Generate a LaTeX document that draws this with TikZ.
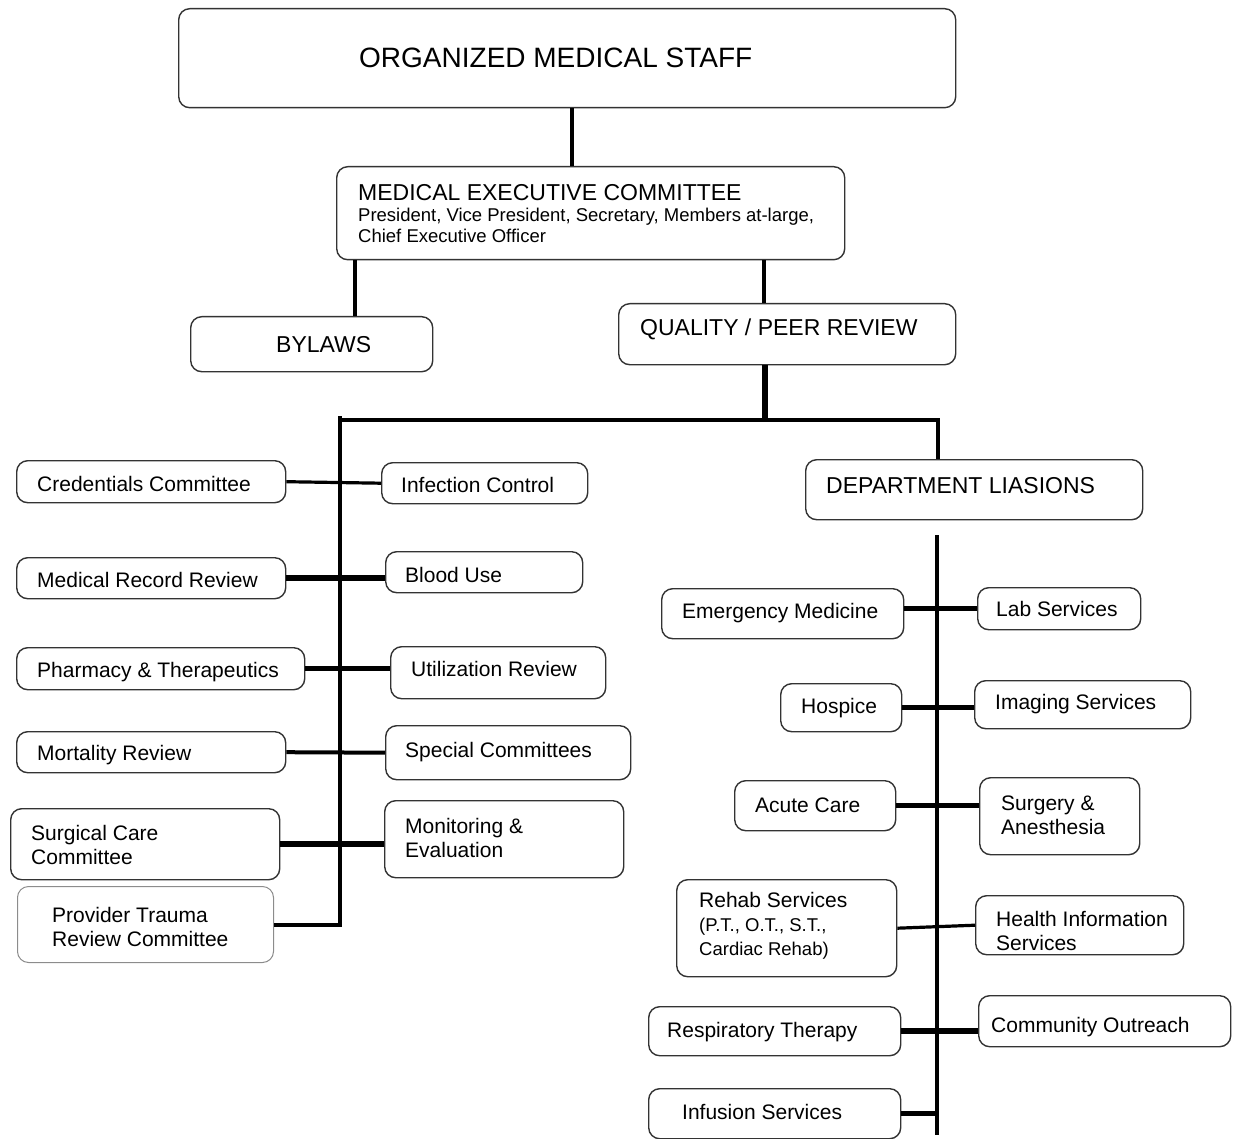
\documentclass[tikz,border=0pt]{standalone}
\usepackage{fontspec}
\setmainfont{Liberation Sans}
\newcommand{\subline}{\fontsize{18.5}{21}\selectfont}

\begin{document}
\begin{tikzpicture}[
    x=1pt,
    y=-1pt,
    box/.style={draw=black!80, line width=1.4pt, rounded corners=11pt, anchor=north west, inner sep=0pt},
    softbox/.style={box, draw=black!45, line width=1pt},
    boxtext/.style={anchor=west, inner sep=0pt, align=left, font=\fontsize{21}{24}\selectfont},
    headtext/.style={boxtext, font=\fontsize{23}{26}\selectfont},
    trunk/.style={line width=4.5pt},
    spine/.style={line width=4pt},
    link/.style={line width=3.2pt},
    heavylink/.style={line width=5.5pt}
  ]
    \useasboundingbox (0,0) rectangle (1233,1139);

    % top of the chart
    \node[box, minimum width=777pt, minimum height=99pt,
      label={[headtext, font=\fontsize{28}{32}\selectfont, xshift=181pt]west:ORGANIZED MEDICAL STAFF}] (oms) at (178,8) {};
    \node[box, minimum width=508pt, minimum height=93pt,
      label={[boxtext, font=\fontsize{18.5}{21}\selectfont, xshift=22pt]west:{{\fontsize{23}{26}\selectfont MEDICAL EXECUTIVE COMMITTEE}\\President, Vice President, Secretary, Members at-large,\\Chief Executive Officer}}] (mec) at (336,166) {};
    \node[box, minimum width=242pt, minimum height=55pt,
      label={[headtext, xshift=86pt]west:BYLAWS}] (bylaws) at (190,316) {};
    \node[box, minimum width=337pt, minimum height=61pt,
      label={[headtext, xshift=22pt, yshift=5pt]west:QUALITY / PEER REVIEW}] (qpr) at (618,303) {};
    \node[box, minimum width=337pt, minimum height=60pt,
      label={[headtext, xshift=21pt, yshift=4pt]west:DEPARTMENT LIASIONS}] (dl) at (805,459) {};

    % committees and departments
    \foreach \nm/\x/\y/\w/\h/\ix/\dy/\txt in {
      cred/16/460/269/42/21/-2/{Credentials Committee},
      mrr/16/557/269/41/21/-2/{Medical Record Review},
      pharm/16/647/288/42/21/-3/{Pharmacy \& Therapeutics},
      mort/16/731/269/41/21/-3/{Mortality Review},
      surg/10/808/269/71/21/-1/{Surgical Care\\Committee},
      infect/381/462/206/41/20/-2/{Infection Control},
      blood/385/551/197/41/20/-3/{Blood Use},
      util/390/646/215/52/21/4/{Utilization Review},
      spec/385/725/245/54/20/1/{Special Committees},
      monit/384/800/239/77/21/1/{Monitoring \&\\Evaluation},
      em/661/588/242/50/21/1/{Emergency Medicine},
      hosp/780/683/121/48/21/0/{Hospice},
      acute/734/780/161/50/21/0/{Acute Care},
      rehab/676/879/220/97/23/2/{Rehab Services\\{\subline (P.T., O.T., S.T.,}\\{\subline Cardiac Rehab)}},
      resp/648/1006/252/49/19/-1/{Respiratory Therapy},
      inf/648/1088/252/50/34/2/{Infusion Services},
      lab/977/587/163/42/19/0/{Lab Services},
      img/974/680/216/48/21/1/{Imaging Services},
      surgA/979/777/160/77/22/1/{Surgery \&\\Anesthesia},
      comm/978/995/252/51/13/-6/{Community Outreach}
    } {
      \node[box, minimum width=\w pt, minimum height=\h pt,
        label={[boxtext, xshift=\ix pt, yshift=\dy pt]west:\txt}] (\nm) at (\x,\y) {};
    }
    \node[softbox, minimum width=256pt, minimum height=76pt,
      label={[boxtext, xshift=35pt, yshift=-2pt]west:{Provider Trauma\\Review Committee}}] (trauma) at (17,886) {};
    \node[box, minimum width=208pt, minimum height=59pt,
      label={[boxtext, xshift=21pt, yshift=-6pt]west:{Health Information\\Services}}] (his) at (975,895) {};

    % connectors
    \coordinate (drop) at (572,0);
    \coordinate (lawsdrop) at (355,0);
    \coordinate (qualdrop) at (764,0);
    \coordinate (busmid) at (765,420);
    \coordinate (busleft) at (340,416);
    \coordinate (busright) at (938,420);
    \coordinate (deptop) at (937,535);
    \coordinate (depbot) at (937,1135);

    \draw[trunk] (oms.south -| drop) -- (mec.north -| drop);
    \draw[spine] (mec.south -| lawsdrop) -- (bylaws.north -| lawsdrop);
    \draw[spine] (mec.south -| qualdrop) -- (qpr.north -| qualdrop);
    \draw[heavylink] (qpr.south -| busmid) -- (busmid);
    \draw[spine] (busleft |- busright) -- (busright) -- (busright |- dl.north);
    \draw[spine] (busleft) -- (busleft |- trauma.east) -- (trauma.east);
    \draw[spine] (deptop) -- (depbot);

    \foreach \a/\b in {cred/infect, rehab/his} {
      \draw[link] (\a.east) -- (\b.west);
    }
    \draw[spine] (mort.east) -- (spec.west);
    \foreach \a/\b in {mrr/blood, pharm/util, surg/monit, hosp/img, acute/surgA, resp/comm} {
      \draw[heavylink] (\a.east) -- (\a.east -| \b.west);
    }
    \draw[heavylink] (em.east |- lab.west) -- (lab.west);
    \draw[heavylink] (inf.east) -- (inf.east -| deptop);
  \end{tikzpicture}
\end{document}
